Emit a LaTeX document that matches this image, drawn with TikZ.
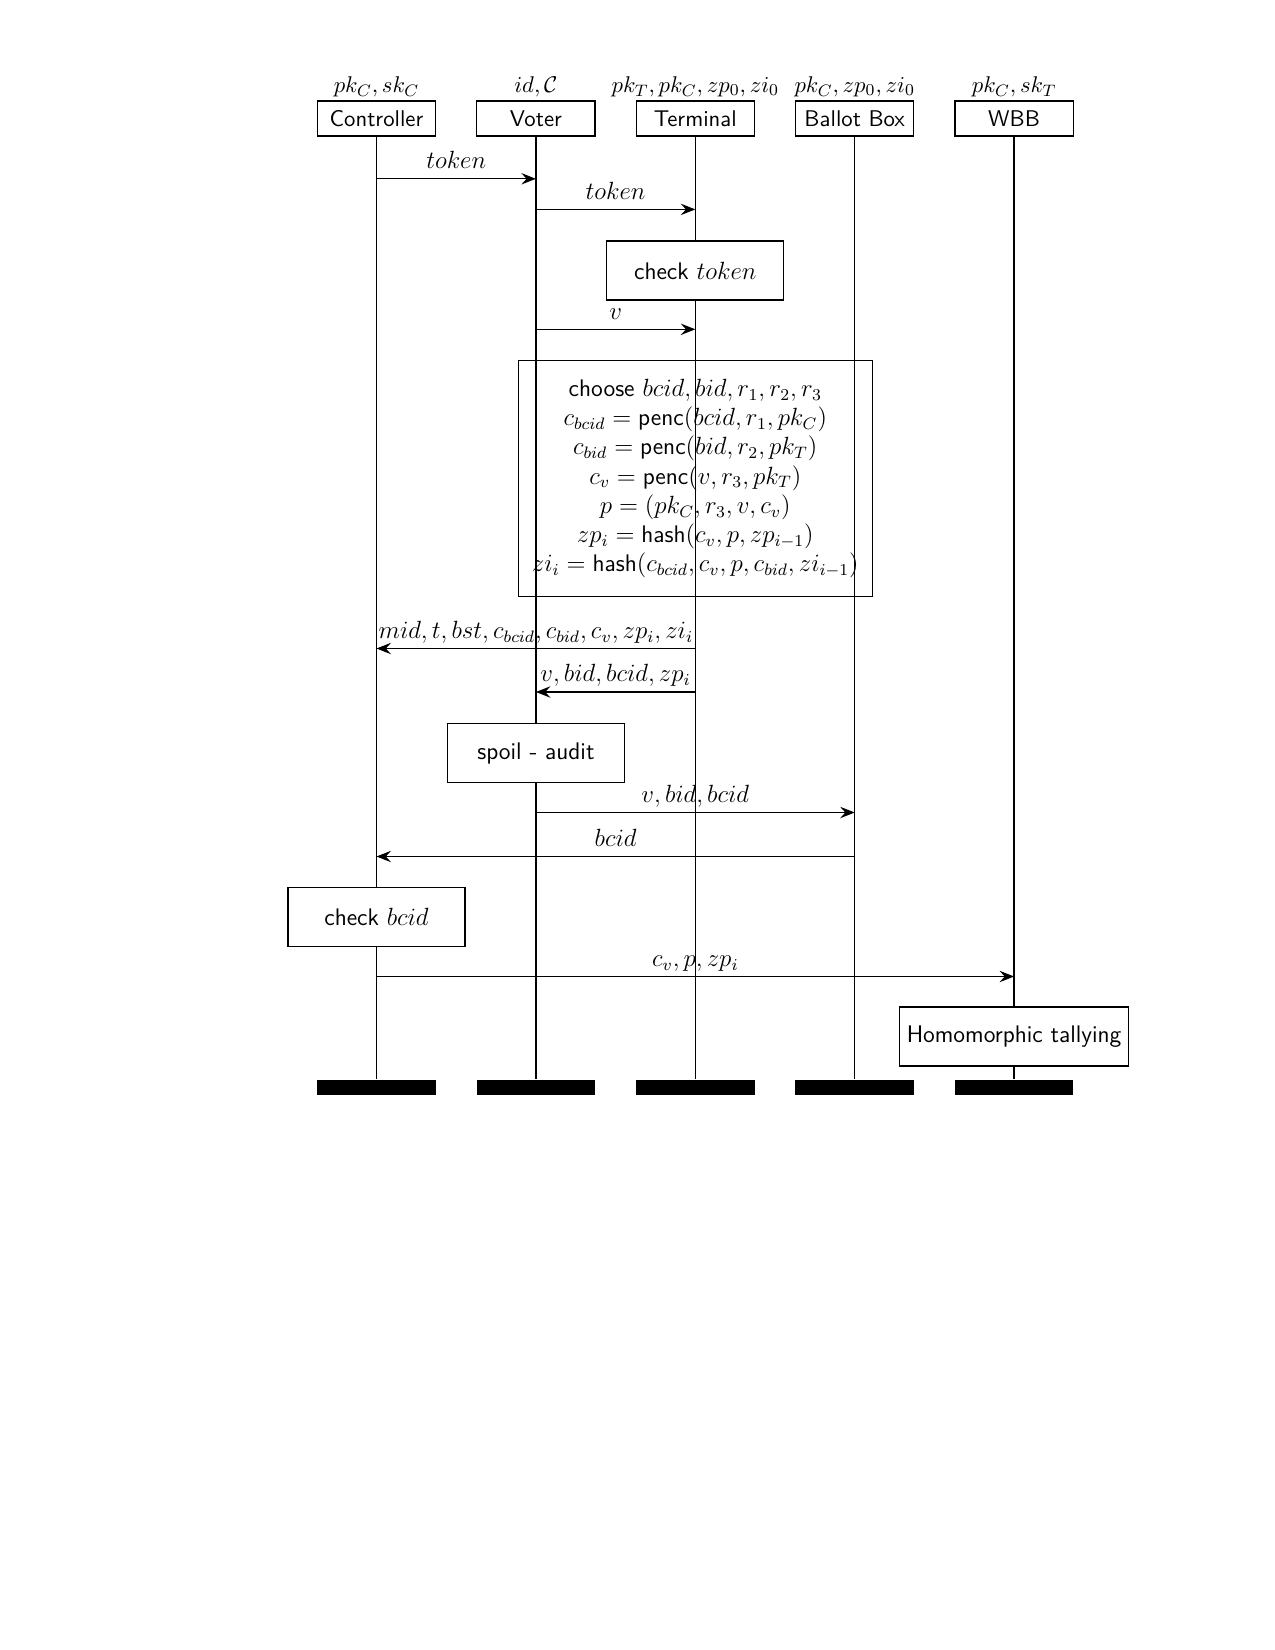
\documentclass[tikz,border=0pt]{standalone}
\usetikzlibrary{arrows.meta}
\newcommand\fsz{\fontsize{10.95}{13.6}\selectfont}
\newcommand\fsl{\fontsize{11.55}{14.05}\selectfont}
\begin{document}
\begin{tikzpicture}[x=0.016933cm, y=-0.016933cm, font=\fsz, line width=0.6pt,
  inst/.style={draw, fill=white, minimum width=2cm, minimum height=0.59cm, inner sep=0pt, font=\fsz\sffamily},
  hdr/.style={anchor=base, inner sep=0pt},
  lbar/.style={fill=black, draw=none, minimum width=2.01cm, minimum height=0.254cm, inner sep=0pt},
  act/.style={draw, fill=white, minimum width=3cm, minimum height=1cm, font=\fsl\sffamily},
  msg/.style={-{Stealth[length=7pt,width=5.5pt,inset=2.5pt]}},
  mlab/.style={midway, anchor=base, yshift=0.17cm, inner sep=0pt, font=\fsl}]
\useasboundingbox (0,0) rectangle (1275,1650);

% instances
\node[inst] (C) at (376.5,118.5) {Controller};
\node[inst] (V) at (535.9,118.5) {Voter};
\node[inst] (T) at (695.3,118.5) {Terminal};
\node[inst] (B) at (854.7,118.5) {Ballot Box};
\node[inst] (W) at (1014.1,118.5) {WBB};

\node[hdr] (hC) at (376.5,92.5) {$pk_C, sk_C$};
\node[hdr] (hV) at (535.9,92.5) {$id, \mathcal{C}$};
\node[hdr] (hT) at (695.3,92.5) {$pk_T, pk_C, zp_0, zi_0$};
\node[hdr] (hB) at (854.7,92.5) {$pk_C, zp_0, zi_0$};
\node[hdr] (hW) at (1014.1,92.5) {$pk_C, sk_T$};

% end bars
\node[lbar] (Cb) at (376.5,1087.5) {};
\node[lbar] (Vb) at (535.9,1087.5) {};
\node[lbar] (Tb) at (695.3,1087.5) {};
\node[lbar] (Bb) at (854.7,1087.5) {};
\node[lbar] (Wb) at (1014.1,1087.5) {};

% lifelines
\draw (C.south) -- (Cb.north);
\draw (V.south) -- (Vb.north);
\draw (T.south) -- (Tb.north);
\draw (B.south) -- (Bb.north);
\draw (W.south) -- (Wb.north);

% message heights
\coordinate (y1) at (0,178.8);
\coordinate (y2) at (0,209.4);
\coordinate (y3) at (0,329.3);
\coordinate (y4) at (0,648.5);
\coordinate (y5) at (0,692);
\coordinate (y6) at (0,812.5);
\coordinate (y7) at (0,856.5);
\coordinate (y8) at (0,976.5);

\draw[msg] (C |- y1) -- node[mlab] (l1) {$token$} (V |- y1);
\draw[msg] (V |- y2) -- node[mlab] (l2) {$token$} (T |- y2);

\node[act] (chk) at (695.3,270.5) {check $token$};

\draw[msg] (V |- y3) -- node[mlab] (l3) {$v$} (T |- y3);

\node[draw, minimum width=6cm, minimum height=3.99cm, align=center, inner sep=0pt, font=\fsl] (big) at (695.3,478.6)
  {\textsf{choose} $bcid, bid, r_1, r_2, r_3$\\
   $c_{bcid} = \textsf{penc}(bcid, r_1, pk_C)$\\
   $c_{bid} = \textsf{penc}(bid, r_2, pk_T)$\\
   $c_v = \textsf{penc}(v, r_3, pk_T)$\\
   $p = (pk_C, r_3, v, c_v)$\\
   $zp_i = \textsf{hash}(c_v, p, zp_{i-1})$\\
   $zi_i = \textsf{hash}(c_{bcid}, c_v, p, c_{bid}, zi_{i-1})$};

\draw[msg] (T |- y4) -- node[mlab] (l4) {$mid, t, bst, c_{bcid}, c_{bid}, c_v, zp_i, zi_i$} (C |- y4);
\draw[msg] (T |- y5) -- node[mlab] (l5) {$v, bid, bcid, zp_i$} (V |- y5);

\node[act] (spoil) at (535.9,753) {spoil - audit};

\draw[msg] (V |- y6) -- node[mlab] (l6) {$v, bid, bcid$} (B |- y6);
\draw[msg] (B |- y7) -- node[mlab] (l7) {$bcid$} (C |- y7);

\node[act] (chkb) at (376.5,917) {check $bcid$};

\draw[msg] (C |- y8) -- node[mlab] (l8) {$c_v, p, zp_i$} (W |- y8);

\node[act] (tally) at (1014.1,1036.5) {Homomorphic tallying};
\end{tikzpicture}
\end{document}
